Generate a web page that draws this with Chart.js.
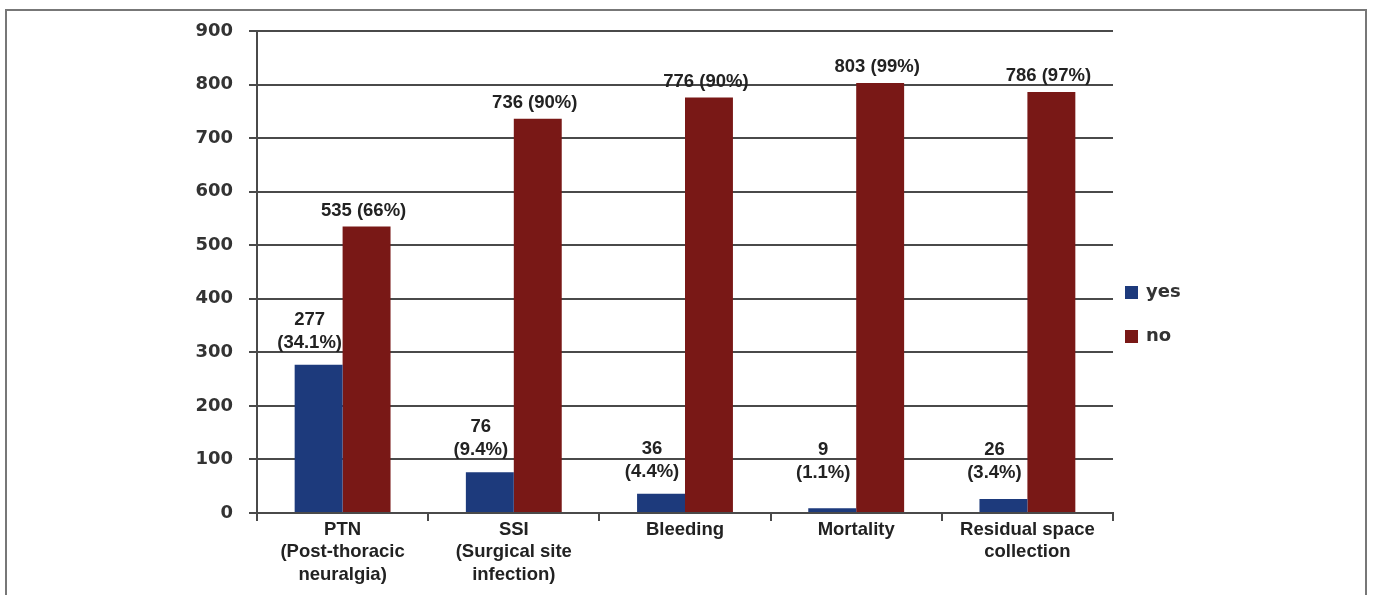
<!DOCTYPE html>
<html>
<head>
<meta charset="utf-8">
<script src="https://cdn.jsdelivr.net/npm/chart.js@4.4.0/dist/chart.umd.min.js"></script>
<style>
  html, body { margin: 0; padding: 0; background: #fff; }
  #wrap { position: relative; width: 1373px; height: 595px; overflow: hidden; }
  #frame { position: absolute; left: 5px; top: 9px; width: 1362px; height: 700px; border: 2px solid #777; box-sizing: border-box; pointer-events: none; }
  canvas { position: absolute; left: 0; top: 0; }
</style>
</head>
<body>
<div id="wrap">
  <canvas id="chart" width="1373" height="595"></canvas>
  <div id="frame"></div>
</div>
<script>
// categories, values and labels
const categories = [
    ['PTN', '(Post-thoracic', 'neuralgia)'],
    ['SSI', '(Surgical site', 'infection)'],
    ['Bleeding'],
    ['Mortality'],
    ['Residual space', 'collection']
];
const yesValues = [277, 76, 36, 9, 26];
const noValues = [535, 736, 776, 803, 786];
const yesLabels = [['277', '(34.1%)'], ['76', '(9.4%)'], ['36', '(4.4%)'], ['9', '(1.1%)'], ['26', '(3.4%)']];
const noLabels = ['535 (66%)', '736 (90%)', '776 (90%)', '803 (99%)', '786 (97%)'];
const yTicks = [0, 100, 200, 300, 400, 500, 600, 700, 800, 900];

const blue = '#1d3a7c';
const red = '#791816';

// value labels above the bars
const barLabels = {
    id: 'barLabels',
    afterDatasetsDraw(chart) {
        const ctx = chart.ctx;
        const y = chart.scales.y;
        ctx.save();
        ctx.fillStyle = '#222';
        ctx.font = 'bold 18.5px "Liberation Sans", Arial, sans-serif';
        ctx.textAlign = 'center';
        ctx.textBaseline = 'middle';

        chart.getDatasetMeta(0).data.forEach((bar, i) => {
            const base = y.getPixelForValue(Math.max(yesValues[i], 33)) - 22;
            ctx.fillText(yesLabels[i][0], bar.x - 9, base - 23);
            ctx.fillText(yesLabels[i][1], bar.x - 9, base);
        });

        chart.getDatasetMeta(1).data.forEach((bar, i) => {
            ctx.fillText(noLabels[i], bar.x - 3, bar.y - 16);
        });
        ctx.restore();
    }
};

// legend on the right, drawn by hand
const sideLegend = {
    id: 'sideLegend',
    afterDraw(chart) {
        const ctx = chart.ctx;
        ctx.save();
        ctx.font = 'bold 18px "DejaVu Sans", sans-serif';
        ctx.textBaseline = 'middle';
        chart.data.datasets.forEach((ds, i) => {
            const cy = 292 + i * 44;
            ctx.fillStyle = ds.backgroundColor;
            ctx.fillRect(1125, cy - 6, 13, 13);
            ctx.fillStyle = '#333';
            ctx.fillText(ds.label, 1146, cy);
        });
        ctx.restore();
    }
};

new Chart(document.getElementById('chart').getContext('2d'), {
    type: 'bar',
    data: {
        labels: categories,
        datasets: [
            { label: 'yes', data: yesValues, backgroundColor: blue, categoryPercentage: 0.56, barPercentage: 1.0 },
            { label: 'no', data: noValues, backgroundColor: red, categoryPercentage: 0.56, barPercentage: 1.0 }
        ]
    },
    options: {
        responsive: false,
        animation: false,
        devicePixelRatio: 1,
        layout: { padding: { left: 0, top: 31, right: 260, bottom: 0 } },
        plugins: {
            legend: { display: false },
            tooltip: { enabled: false }
        },
        scales: {
            x: {
                afterFit: scale => { scale.height = 82; },
                grid: { offset: true, drawOnChartArea: false, drawTicks: true, tickLength: 8, color: '#4a4a4a', lineWidth: 2 },
                border: { display: true, color: '#4a4a4a', width: 2 },
                ticks: {
                    color: '#222',
                    padding: -2,
                    font: { family: '"Liberation Sans", Arial, sans-serif', size: 18.5, weight: 'bold', lineHeight: 1.2 },
                    maxRotation: 0,
                    autoSkip: false
                }
            },
            y: {
                min: 0,
                max: 900,
                afterFit: scale => { scale.width = 257; },
                afterBuildTicks: scale => { scale.ticks = yTicks.map(v => ({ value: v })); },
                grid: { color: '#4a4a4a', lineWidth: 2, tickLength: 8 },
                border: { display: true, color: '#4a4a4a', width: 2 },
                ticks: {
                    color: '#333',
                    padding: 16,
                    font: { family: '"DejaVu Sans", sans-serif', size: 18, weight: 'bold' }
                }
            }
        }
    },
    plugins: [barLabels, sideLegend]
});
</script>
</body>
</html>
